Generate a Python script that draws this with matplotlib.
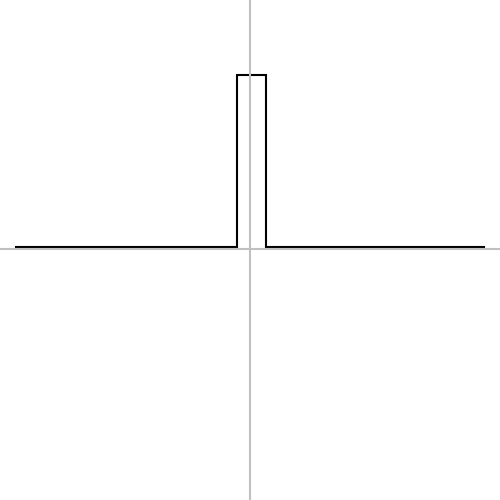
import numpy as np
import matplotlib
matplotlib.use("Agg")
import matplotlib.pyplot as plt

# rectangular pulse
x = [-8, -0.45, -0.45, 0.55, 0.55, 8]
y = [0, 0, 1, 1, 0, 0]

fig = plt.figure(figsize=(5, 5), dpi=100)
ax = fig.add_axes([0, 0, 1, 1])
ax.plot(x, y, color="black", lw=1.5, solid_joinstyle="miter", zorder=2)

ax.axhline(-0.0145, color="#c0c0c0", lw=1.5, zorder=3)
ax.axvline(0, color="#c0c0c0", lw=1.5, zorder=3)

ax.set_xlim(-8.55, 8.55)
ax.set_ylim(-1.471, 1.436)
ax.axis("off")

plt.savefig("out.png")
